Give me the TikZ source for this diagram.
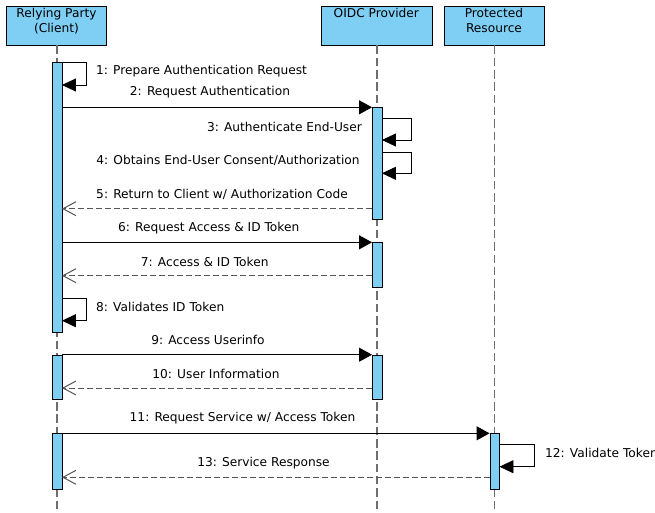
\documentclass[tikz,border=0pt]{standalone}
\usepackage{fontspec}
\setmainfont{DejaVu Sans}
\usetikzlibrary{arrows.meta}
\definecolor{barblue}{HTML}{7FCFF5}
\definecolor{lifegray}{HTML}{555555}

\begin{document}
\begin{tikzpicture}[x=1pt, y=-1pt, font=\fontsize{12.2}{15}\selectfont,
    actor/.style = {draw, fill=barblue, rectangle, minimum height=39, anchor=north, inner sep=0},
    head/.style = {align=center, anchor=north, inner sep=2.5},
    bar/.style = {draw, fill=barblue, rectangle, minimum width=9.5, inner sep=0, anchor=north},
    life/.style = {lifegray!85, line width=1.3pt, dash pattern=on 8.5pt off 3.8pt},
    call/.style = {line width=0.9pt, -{Triangle[length=13pt,width=14pt]}},
    back/.style = {lifegray, line width=1pt, dash pattern=on 6pt off 3pt, -{Straight Barb[length=13pt,width=14pt]}},
    self/.style = {line width=0.8pt, -{Triangle[length=14pt,width=13pt]}},
    lbl/.style = {inner sep=0}]
    \useasboundingbox (0,0) rectangle (655,512);
    \node[actor, minimum width=100, label={[head, name=rpt]north:{Relying Party\\(Client)}}] (rp) at (56.5,6) {};
    \node[actor, minimum width=111, label={[head, name=opt]north:{OIDC Provider}}] (op) at (376.3,6) {};
    \node[actor, minimum width=100, label={[head, name=rst]north:{Protected\\Resource}}] (rs) at (494,6) {};
    \draw[life] (rp.south -| 57,0) -- (57,512);
    \draw[life] (op.south -| 377,0) -- (377,512);
    \draw[life] (rs.south -| 494.5,0) -- (494.5,512);
    \node[bar, minimum height=270] (a1) at (57,62) {};
    \node[bar, minimum height=44.3] (a2) at (57,354.7) {};
    \node[bar, minimum height=56] (a3) at (57,433.3) {};
    \node[bar, minimum height=112] (b1) at (377,107.3) {};
    \node[bar, minimum height=44.7] (b2) at (377,242.3) {};
    \node[bar, minimum height=44.3] (b3) at (377,354.7) {};
    \node[bar, minimum height=56] (c1) at (494.5,433.3) {};
    \draw[self] (a1.east |- 0,62) -- ++(24,0) -- ++(0,23) -- (a1.east |- 0,85);
    \node[lbl, anchor=west] (m1) at (96,70.7) {1: Prepare Authentication Request};
    \draw[call] (a1.east |- 0,107.3) -- (b1.west |- 0,107.3);
    \node[lbl] (m2) at (210,92) {2: Request Authentication};
    \draw[self] (b1.east |- 0,118.3) -- ++(29,0) -- ++(0,21.7) -- (b1.east |- 0,140);
    \node[lbl, anchor=east] (m3) at (362,127) {3: Authenticate End-User};
    \draw[self] (b1.east |- 0,152.3) -- ++(29,0) -- ++(0,21) -- (b1.east |- 0,173.3);
    \node[lbl] (m4) at (228,160.7) {4: Obtains End-User Consent/Authorization};
    \draw[back] (b1.west |- 0,208.7) -- (a1.east |- 0,208.7);
    \node[lbl] (m5) at (222,194.3) {5: Return to Client w/ Authorization Code};
    \draw[call] (a1.east |- 0,242.3) -- (b2.west |- 0,242.3);
    \node[lbl] (m6) at (208.7,227.7) {6: Request Access \& ID Token};
    \draw[back] (b2.west |- 0,275.7) -- (a1.east |- 0,275.7);
    \node[lbl] (m7) at (204.7,261.7) {7: Access \& ID Token};
    \draw[self] (a1.east |- 0,298) -- ++(24,0) -- ++(0,22.7) -- (a1.east |- 0,320.7);
    \node[lbl, anchor=west] (m8) at (96,306.7) {8: Validates ID Token};
    \draw[call] (a2.east |- 0,354.7) -- (b3.west |- 0,354.7);
    \node[lbl] (m9) at (208,339.7) {9: Access Userinfo};
    \draw[back] (b3.west |- 0,388) -- (a2.east |- 0,388);
    \node[lbl] (m10) at (216,373.7) {10: User Information};
    \draw[call] (a3.east |- 0,433.3) -- (c1.west |- 0,433.3);
    \node[lbl] (m11) at (242.5,418) {11: Request Service w/ Access Token};
    \draw[self] (c1.east |- 0,444.3) -- ++(35,0) -- ++(0,22.4) -- (c1.east |- 0,466.7);
    \node[lbl, anchor=west] (m12) at (545,452.7) {12: Validate Token};
    \draw[back] (c1.west |- 0,477.3) -- (a3.east |- 0,477.3);
    \node[lbl] (m13) at (263.5,463.3) {13: Service Response};
\end{tikzpicture}
\end{document}
